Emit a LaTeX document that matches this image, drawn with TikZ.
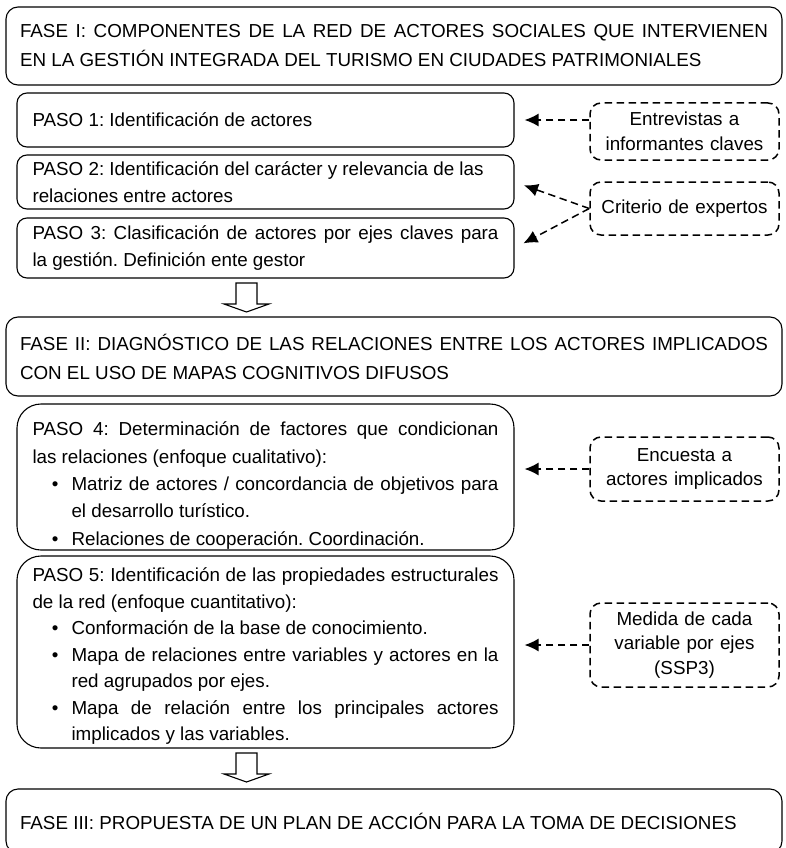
\documentclass[tikz,border=0pt]{standalone}
\usepackage{fontspec}
\setmainfont{Liberation Sans}
\usepackage{enumitem}
\setlist[itemize]{leftmargin=39pt,labelsep=13pt,itemsep=0pt,topsep=0pt,parsep=0pt,partopsep=0pt}
\usetikzlibrary{arrows.meta}
\frenchspacing

\begin{document}
\begin{tikzpicture}[x=1pt,y=-1pt,>={Latex[length=14pt,width=13pt]},
  fase/.style={draw,line width=1.1pt,rounded corners=12pt,minimum width=776pt,text width=748pt,align=justify,inner sep=0pt,font=\fontsize{18.8}{29}\selectfont},
  paso/.style={draw,line width=1.1pt,rounded corners=10pt,minimum width=497pt,text width=466pt,align=justify,inner sep=0pt,font=\fontsize{18.8}{26.5}\selectfont},
  fuente/.style={draw,line width=1.5pt,dash pattern=on 7.5pt off 4.5pt,rounded corners=11pt,minimum width=189pt,text width=185pt,align=center,inner sep=0pt,font=\fontsize{18.8}{24.5}\selectfont},
  flecha/.style={->,line width=1.5pt,dash pattern=on 7.5pt off 4.5pt,shorten >=10pt},
  hueco/.style={draw,line width=1.1pt,fill=white}]
\useasboundingbox (0,0) rectangle (786,848);

% fases
\node[fase,minimum height=78pt] (fase1) at (394,46) {FASE I: COMPONENTES DE LA RED DE ACTORES SOCIALES QUE INTERVIENEN\linebreak EN LA GESTIÓN INTEGRADA DEL TURISMO EN CIUDADES PATRIMONIALES};
\node[fase,minimum height=79pt] (fase2) at (394,356.5) {FASE II: DIAGNÓSTICO DE LAS RELACIONES ENTRE LOS ACTORES IMPLICADOS\linebreak CON EL USO DE MAPAS COGNITIVOS DIFUSOS};
\node[fase,minimum height=64pt] (fase3) at (394,821) {FASE III: PROPUESTA DE UN PLAN DE ACCIÓN PARA LA TOMA DE DECISIONES};

% pasos
\node[paso,minimum height=54pt] (paso1) at (265.5,120) {PASO 1: Identificación de actores};
\node[paso,minimum height=54pt] (paso2) at (265.5,182) {PASO 2: Identificación del carácter y relevancia de las\\relaciones entre actores};
\node[paso,minimum height=60pt] (paso3) at (265.5,248) {PASO 3: Clasificación de actores por ejes claves para\linebreak la gestión. Definición ente gestor};
\node[paso,rounded corners=24pt,minimum height=146pt,font=\fontsize{18.8}{27.3}\selectfont] (paso4) at (265.5,477) {PASO 4: Determinación de factores que condicionan\linebreak las relaciones (enfoque cualitativo):
  \begin{itemize}
  \item Matriz de actores / concordancia de objetivos para\linebreak el desarrollo turístico.
  \item Relaciones de cooperación. Coordinación.
  \end{itemize}\par\kern-17pt};
\node[paso,rounded corners=24pt,minimum height=192pt] (paso5) at (265.5,652) {PASO 5: Identificación de las propiedades estructurales\linebreak de la red (enfoque cuantitativo):
  \begin{itemize}
  \item Conformación de la base de conocimiento.
  \item Mapa de relaciones entre variables y actores en la\linebreak red agrupados por ejes.
  \item Mapa de relación entre los principales actores\linebreak implicados y las variables.
  \end{itemize}\par\kern-9pt};

% fuentes
\node[fuente,minimum height=57pt] (entrev) at (684.5,131.5) {Entrevistas a\\informantes claves};
\node[fuente,minimum height=53pt] (crit) at (684.5,208.5) {Criterio de expertos};
\node[fuente,minimum height=64pt] (encue) at (684.5,469) {Encuesta a\\actores implicados};
\node[fuente,minimum height=84pt] (medida) at (684.5,645) {Medida de cada\\variable por ejes\\(SSP3)};

\draw[flecha] (entrev.west |- paso1.east) -- (paso1.east);
\draw[flecha] (crit.west) -- (paso2.east);
\draw[flecha] (crit.west) -- (paso3.east);
\draw[flecha] (encue.west) -- (encue.west -| paso4.east);
\draw[flecha] (medida.west) -- (medida.west -| paso5.east);

% flechas huecas
\coordinate (f1) at (236,283);
\coordinate (f2) at (236,753);
\foreach \f in {f1,f2}
  \draw[hueco] (\f) -- ++(21,0) -- ++(0,21) -- ++(12,0) -- ++(-22.5,8) -- ++(-22.5,-8) -- ++(12,0) -- cycle;
\end{tikzpicture}
\end{document}
